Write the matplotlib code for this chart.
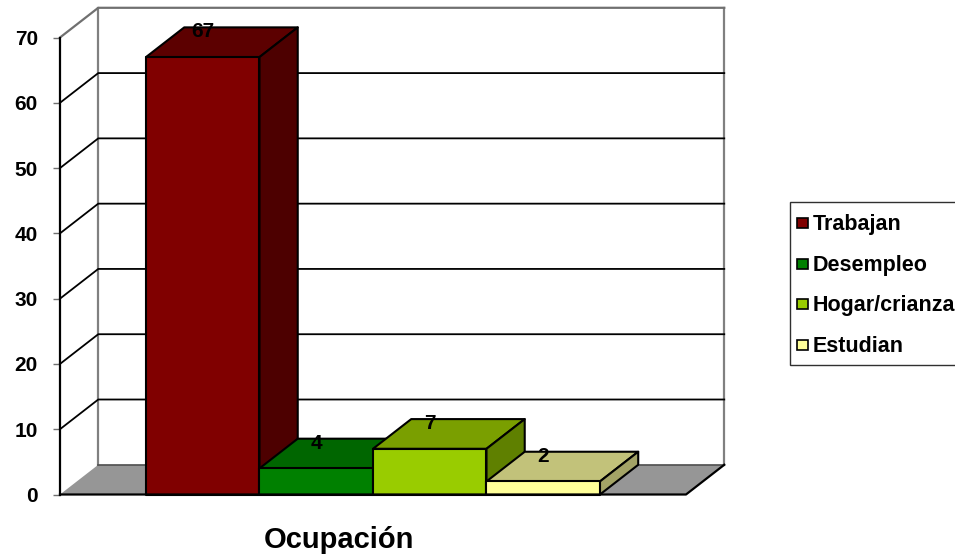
import matplotlib
matplotlib.use('Agg')
from matplotlib import pyplot as plt
from matplotlib.patches import Polygon, Rectangle

plt.rcParams['font.family'] = ['Liberation Sans', 'DejaVu Sans']
plt.rcParams['font.weight'] = 'bold'

categories = ['Trabajan', 'Desempleo', 'Hogar/crianza', 'Estudian']
values = [67, 4, 7, 2]
y_ticks = [0, 10, 20, 30, 40, 50, 60, 70]

front_colors = ['#800000', '#008000', '#99cc00', '#ffff99']
top_colors = ['#5c0000', '#006600', '#7a9f00', '#c2c27a']
side_colors = ['#4d0000', '#004d00', '#5f8000', '#a3a366']

W, H = 955, 557
fig = plt.figure(figsize=(W / 100, H / 100), dpi=100)
# front plane of the 3d box, in pixels of the figure
ax = fig.add_axes([60 / W, 1 - 494.5 / H, 626 / W, 457 / H])
ax.set_xlim(-0.7577, 4.758)
ax.set_ylim(0, 70)
ax.patch.set_alpha(0)

# depth of the box in data units
dx = 0.337
dy = 4.55
x0, x1 = ax.get_xlim()


def face(points, color, edge='black', lw=1.5, z=3):
    ax.add_patch(Polygon(points, closed=True, facecolor=color, edgecolor=edge,
                         linewidth=lw, clip_on=False, zorder=z, joinstyle='round'))


# floor and back wall
face([(x0, 0), (x0 + dx, dy), (x1 + dx, dy), (x1, 0)], '#969696', edge='none', z=1)
ax.plot([x0 + dx, x0 + dx], [dy, 70 + dy], color='#808080', lw=1.6, clip_on=False, zorder=1)
ax.plot([x1 + dx, x1 + dx], [dy, 70 + dy], color='#808080', lw=1.6, clip_on=False, zorder=1)
ax.plot([x0, x0 + dx, x1 + dx], [70, 70 + dy, 70 + dy], color='#707070', lw=1.6, clip_on=False, zorder=1)
ax.plot([x0 + dx, x1 + dx], [dy, dy], color='#505050', lw=1.2, clip_on=False, zorder=1)

# gridlines run along the left wall and then the back wall
for t in y_ticks[1:-1]:
    ax.plot([x0, x0 + dx, x1 + dx], [t, t + dy, t + dy], color='black', lw=1.3, clip_on=False, zorder=2)

# bars
for i in range(len(values)):
    v = values[i]
    face([(i, v), (i + dx, v + dy), (i + 1 + dx, v + dy), (i + 1, v)], top_colors[i])
    face([(i + 1, 0), (i + 1 + dx, dy), (i + 1 + dx, v + dy), (i + 1, v)], side_colors[i])
    face([(i, 0), (i + 1, 0), (i + 1, v), (i, v)], front_colors[i])

for i in range(len(values)):
    ax.text(i + 0.5, values[i] + 3.85, str(values[i]), ha='center', va='center',
            fontsize=15, color='black', zorder=6)

# front edges of the floor
ax.plot([x0, x1, x1 + dx], [0, 0, dy], color='black', lw=1.6, clip_on=False, zorder=5)

for s in ['top', 'right', 'bottom']:
    ax.spines[s].set_visible(False)
ax.spines['left'].set_linewidth(1.6)
ax.spines['left'].set_zorder(5)
ax.set_xticks([])
ax.set_yticks(y_ticks)
ax.tick_params(axis='y', length=5, width=1, color='#707070', pad=11, labelsize=15)

fig.text(339 / W, 1 - 540 / H, 'Ocupación', ha='center', va='center', fontsize=21)

# legend box runs off the right side of the picture
fig.add_artist(Rectangle((790 / W, 1 - 365 / H), 175 / W, 163 / H, transform=fig.transFigure,
                         facecolor='white', edgecolor='#303030', linewidth=1))
legend_y = [223, 264, 304, 345]
for i in range(len(categories)):
    fig.add_artist(Rectangle((797 / W, 1 - (legend_y[i] + 5) / H), 11 / W, 10 / H,
                             transform=fig.transFigure, facecolor=front_colors[i],
                             edgecolor='black', linewidth=1.2))
    fig.text(813 / W, 1 - (legend_y[i] + 1.5) / H, categories[i], ha='left', va='center', fontsize=15.5)

fig.savefig('out.png', dpi=100)
